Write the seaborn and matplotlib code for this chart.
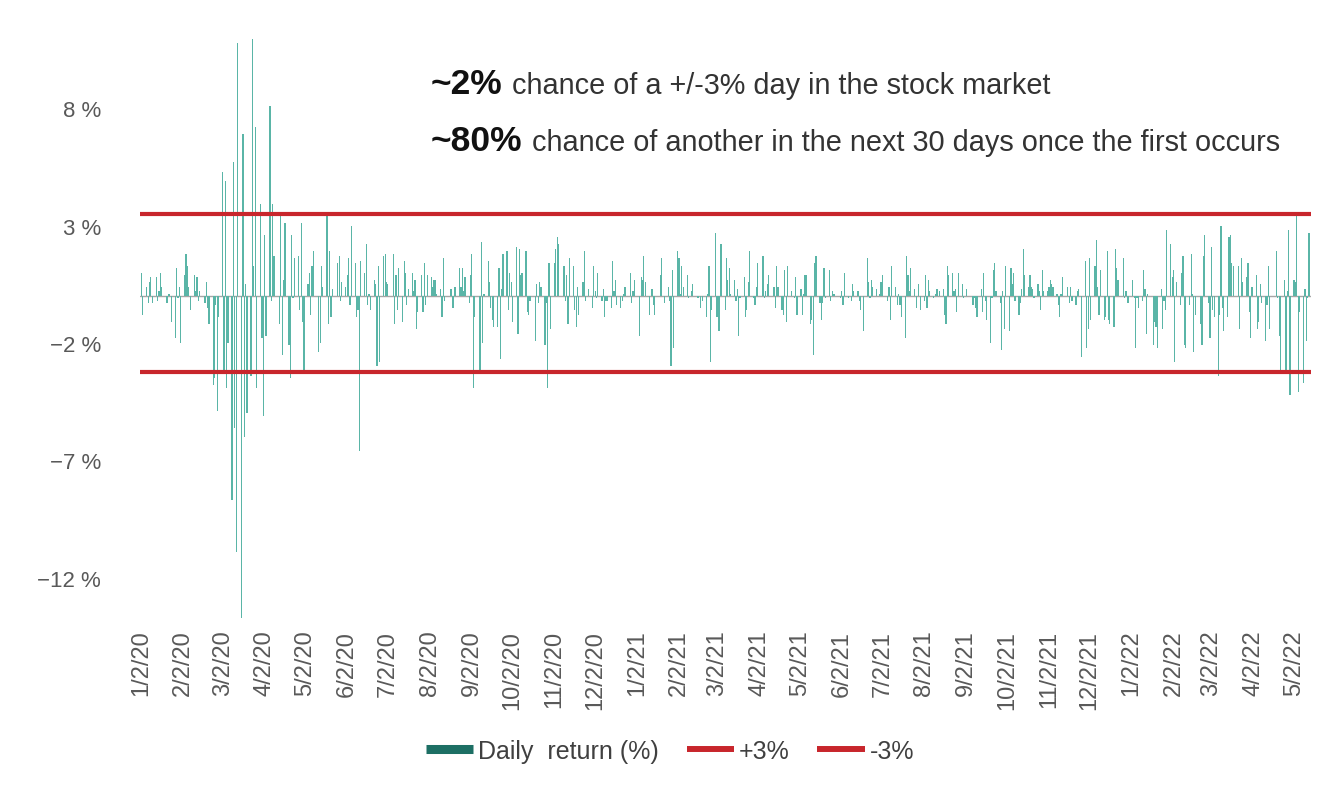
import seaborn as sns
import matplotlib.pyplot as plt
import matplotlib.dates as mdates
from matplotlib.lines import Line2D
import pandas as pd

# daily return (%), one list per month (trading days only)
ret_2020_01 = [1.0, -0.8, 0.4, -0.3, 0.6, 0.8, -0.3, 0.8, -0.2, 0.2, 1.0, 0.4, -0.3, 0.1, 0.1, -1.1, -1.8, 1.2, -0.1, 0.4, -2.0]
ret_2020_02 = [0.9, 1.8, 1.3, 0.4, -0.6, 0.9, 0.2, 0.8, -0.2, 0.2, -0.3, 0.6, -0.5, -1.2, -3.8, -3.5, -0.4, -4.9, -0.9]
ret_2020_03 = [5.3, -3.2, 4.9, -3.9, -2.0, -8.7, 5.7, -5.6, -10.9, 10.8, -13.7, 6.9, -6.0, 0.5, -5.0, -3.4, 11.2, 1.3, 7.2, -3.9, 3.9, -1.8]
ret_2020_04 = [-5.1, 2.6, -1.7, 8.1, -0.2, 3.9, 1.7, -1.2, 3.5, -2.5, 0.7, 3.1, -2.1, -3.5, 2.6, -0.1, 1.6, 1.7, -0.6, 3.1, -1.1]
ret_2020_05 = [-3.2, 0.5, 1.0, -0.8, 1.3, 1.9, 0.0, -2.4, -2.0, 1.3, 0.4, 3.6, -1.2, 1.9, -0.9, 0.3, 1.4, 1.7, -0.2, 0.6]
ret_2020_06 = [0.4, 0.9, 1.6, -0.4, 3.0, 1.4, -0.9, -0.6, -6.6, 1.5, 1.0, 2.2, -0.4, 0.1, -0.6, 0.7, 0.5, -3.0, 1.3, -2.8, 1.7, 1.8]
ret_2020_07 = [0.6, 0.5, 1.8, -1.2, 0.9, -0.6, 1.2, -1.1, 1.5, 1.0, -0.4, 0.3, 1.0, 0.2, 0.7, -1.4, -0.7, 0.9, -0.7, 1.4, -0.4, 0.9]
ret_2020_08 = [0.8, 0.4, 0.7, 0.7, 0.1, 0.3, -0.9, 1.6, -0.2, 0.0, 0.3, 0.3, -0.5, 0.4, 0.4, 1.2, 0.4, 1.2, 0.2, 0.8, -0.3]
ret_2020_09 = [0.9, 1.8, -3.9, -0.9, -3.2, 2.3, -2.0, 0.1, 1.5, 0.6, -0.5, -1.0, -1.3, -1.3, 1.2, -2.7, 0.3, 1.8, 1.9, -0.6, 1.0]
ret_2020_10 = [0.6, -1.1, 2.1, -1.6, 2.0, 0.9, 1.0, 1.9, -0.7, -0.8, -0.2, 0.0, -1.9, 0.5, -0.3, 0.6, 0.4, -2.1, -0.3, -3.9, 1.4, -1.4]
ret_2020_11 = [1.4, 2.0, 2.5, 2.2, 0.0, 1.3, -0.2, 0.9, -1.2, 1.6, 1.3, -0.6, -1.3, 0.4, -0.8, 0.6, 1.9, -0.2, 0.3, -0.5]
ret_2020_12 = [1.3, 0.2, -0.1, 1.0, -0.2, 0.3, -0.9, -0.2, -0.2, -0.5, 1.5, 0.2, 0.7, -0.4, -0.5, -0.2, 0.1, 0.4, 1.0, -0.3, 0.2, 0.7]
ret_2021_01 = [-1.7, 0.8, 0.7, 1.7, 0.6, -0.8, 0.0, 0.3, -0.4, -0.8, 0.9, 1.6, 0.0, -0.3, 0.4, -0.2, -3.0, 1.1, -2.2]
ret_2021_02 = [1.9, 1.6, 0.1, 1.3, 0.4, 0.9, -0.1, 0.0, 0.2, 0.5, -0.1, 0.0, -0.5, -0.2, -0.9, 0.1, 1.3, -2.8, -0.6]
ret_2021_03 = [2.7, -0.9, -1.5, -1.5, 2.2, -0.6, 1.6, 0.7, 1.2, 0.1, 0.7, -0.2, 0.3, -1.7, -0.1, 0.8, -0.9, -0.6, 0.6, 1.9, -0.1, -0.4, 0.4]
ret_2021_04 = [1.4, 1.7, -0.1, 0.2, 0.5, 0.9, 0.0, 0.4, -0.5, 1.3, 0.4, -0.6, -0.8, 1.1, -1.1, 1.3, 0.2, 0.0, -0.1, 0.8, -0.8]
ret_2021_05 = [0.3, -0.8, 0.1, 0.9, 0.9, -1.2, -1.0, -2.5, 1.4, 1.7, -0.3, -1.0, -0.3, 1.2, -0.1, 1.1, -0.2, 0.2, 0.1, 0.1]
ret_2021_06 = [-0.1, 0.2, -0.4, 1.0, -0.1, 0.0, -0.2, 0.5, 0.2, 0.2, -0.2, -0.6, 0.0, -1.5, 1.6, 0.6, -0.1, 0.7, 0.4, 0.3, 0.0, 0.1]
ret_2021_07 = [0.6, 0.9, -0.2, 0.4, -1.0, 1.3, 0.4, -0.4, 0.1, -0.4, -0.9, -1.8, 1.7, 0.9, 0.2, 1.2, 0.3, -0.5, 0.0, 0.5, -0.6]
ret_2021_08 = [-0.2, 0.9, -0.5, 0.7, 0.2, -0.1, 0.1, 0.3, 0.3, 0.2, 0.3, -0.8, -1.2, 1.3, 0.9, 1.0, 0.2, 0.3, -0.7, 1.0, 0.5, -0.1]
ret_2021_09 = [0.0, 0.3, 0.0, -0.4, -0.1, -0.5, -0.9, 0.3, -0.7, 1.0, -0.2, -1.0, -2.0, -0.1, 1.1, 1.4, 0.2, -0.3, -2.3, 0.2, -1.4]
ret_2021_10 = [1.3, -1.5, 1.2, 0.5, 1.0, -0.2, -0.8, -0.3, 0.3, 2.0, 0.9, 0.4, 0.9, 0.4, 0.3, -0.1, 0.5, 0.2, -0.6, 1.1, 0.2]
ret_2021_11 = [0.2, 0.4, 0.7, 0.5, 0.4, 0.1, -0.4, -0.9, 0.1, 0.8, 0.0, 0.4, -0.3, 0.4, -0.2, -0.4, 0.2, 0.3, -2.6, 1.5, -2.2]
ret_2021_12 = [-1.4, 1.6, -1.0, 1.3, 2.4, 0.4, -0.8, 1.1, -1.0, -0.9, 1.9, -1.0, -1.2, -1.3, 2.0, 1.2, 0.7, 1.6, -0.1, 0.2, -0.3, -0.3]
ret_2022_01 = [0.7, -0.1, -2.2, -0.1, -0.5, -0.2, 1.1, 0.3, -1.6, 0.1, -2.1, -1.1, -1.3, -2.2, 0.3, -1.4, -0.2, -0.6, 2.8, 2.2]
ret_2022_02 = [0.8, 1.1, -2.8, 0.6, -0.4, 1.0, 1.7, -2.1, -2.2, -0.4, 1.8, 0.1, -2.4, -0.8, -1.2, -2.1, 1.7, 2.6, -0.3]
ret_2022_03 = [-1.8, 2.1, -0.6, -0.9, -3.4, -0.8, 3.0, -0.5, -1.5, -0.9, 2.5, 2.6, 1.4, 1.3, 0.0, 1.3, -1.4, 1.6, 0.6, 0.8, 1.4, -0.7, -1.8]
ret_2022_04 = [0.4, 0.9, -1.4, -1.1, 0.5, -0.3, -1.9, -0.4, 1.3, -1.4, 0.0, 1.9, -0.1, -1.7, -3.2, 0.7, -3.2, 0.2, 2.8, -4.2]
ret_2022_05 = [0.7, 0.6, 3.4, -4.1, -0.7, -3.7, 0.3, -1.9, -0.1, 2.7]

monthly_returns = [
    ret_2020_01, ret_2020_02, ret_2020_03, ret_2020_04, ret_2020_05, ret_2020_06,
    ret_2020_07, ret_2020_08, ret_2020_09, ret_2020_10, ret_2020_11, ret_2020_12,
    ret_2021_01, ret_2021_02, ret_2021_03, ret_2021_04, ret_2021_05, ret_2021_06,
    ret_2021_07, ret_2021_08, ret_2021_09, ret_2021_10, ret_2021_11, ret_2021_12,
    ret_2022_01, ret_2022_02, ret_2022_03, ret_2022_04, ret_2022_05,
]

first_day = '2020-01-02'
last_day = '2022-05-13'
market_holidays = [
    '2020-01-20', '2020-02-17', '2020-04-10', '2020-05-25', '2020-07-03', '2020-09-07',
    '2020-11-26', '2020-12-25', '2021-01-01', '2021-01-18', '2021-02-15', '2021-04-02',
    '2021-05-31', '2021-07-05', '2021-09-06', '2021-11-25', '2021-12-24', '2022-01-17',
    '2022-02-21', '2022-04-15',
]

# the two red band lines as drawn on the chart
upper_band = 3.5
lower_band = -3.25

tick_dates = [
    '2020-01-02', '2020-02-02', '2020-03-02', '2020-04-02', '2020-05-02', '2020-06-02',
    '2020-07-02', '2020-08-02', '2020-09-02', '2020-10-02', '2020-11-02', '2020-12-02',
    '2021-01-02', '2021-02-02', '2021-03-02', '2021-04-02', '2021-05-02', '2021-06-02',
    '2021-07-02', '2021-08-02', '2021-09-02', '2021-10-02', '2021-11-02', '2021-12-02',
    '2022-01-02', '2022-02-02', '2022-03-02', '2022-04-02', '2022-05-02',
]
tick_labels = [
    '1/2/20', '2/2/20', '3/2/20', '4/2/20', '5/2/20', '6/2/20', '7/2/20', '8/2/20',
    '9/2/20', '10/2/20', '11/2/20', '12/2/20', '1/2/21', '2/2/21', '3/2/21', '4/2/21',
    '5/2/21', '6/2/21', '7/2/21', '8/2/21', '9/2/21', '10/2/21', '11/2/21', '12/2/21',
    '1/2/22', '2/2/22', '3/2/22', '4/2/22', '5/2/22',
]
y_ticks = [8, 3, -2, -7, -12]
y_tick_labels = ['8 %', '3 %', '\u22122 %', '\u22127 %', '\u221212 %']

series_labels = ['Daily  return (%)', '+3%', '-3%']
headline_bold = ['~2%', '~80%']
headline_text = ['chance of a +/-3% day in the stock market',
                 'chance of another in the next 30 days once the first occurs']

bar_color = '#5ab5a7'
legend_teal = '#1d6f64'
red = '#c8262c'
grey_text = '#595959'

W, H = 1340, 804


def build_frame():
    days = pd.bdate_range(first_day, last_day, freq='C', holidays=market_holidays)
    df = pd.DataFrame({'date': days})
    df['month'] = df['date'].dt.to_period('M')
    counts = df.groupby('month').size()
    for (m, n), vals in zip(counts.items(), monthly_returns):
        if n != len(vals):
            raise ValueError(f"{m}: {n} trading days but {len(vals)} values")
    df['ret'] = [v for vals in monthly_returns for v in vals]
    df['x'] = mdates.date2num(df['date'])
    return df


def main():
    df = build_frame()

    sns.set_theme(style='white')
    plt.rcParams['font.family'] = ['Liberation Sans', 'DejaVu Sans']

    fig = plt.figure(figsize=(W / 100, H / 100), dpi=100)
    ax = fig.add_axes([140 / W, 1 - 621 / H, 1171 / W, 581 / H])

    sns.barplot(data=df, x='x', y='ret', native_scale=True, orient='x',
                errorbar=None, color=bar_color, saturation=1, width=0.9,
                linewidth=0, ax=ax)

    ax.axhline(0, color='#a6a6a6', lw=1, zorder=0)
    ax.axhline(upper_band, color=red, lw=3, zorder=3)
    ax.axhline(lower_band, color=red, lw=3, zorder=3)

    ax.set_ylim(-13.8, 10.95)
    ax.set_xlim(df['x'].iloc[0] - 1, df['x'].iloc[-1] + 1.5)

    ax.set_xticks(mdates.date2num(pd.to_datetime(tick_dates)))
    ax.set_xticklabels(tick_labels, rotation=90, fontsize=17, color=grey_text)
    ax.set_yticks(y_ticks)
    ax.set_yticklabels(y_tick_labels, fontsize=16, color=grey_text)
    ax.tick_params(axis='x', length=0, pad=7)
    ax.tick_params(axis='y', length=0, pad=28)
    ax.set_xlabel('')
    ax.set_ylabel('')
    sns.despine(ax=ax, left=True, bottom=True)

    # headline: bold figure followed by regular text
    bold_texts = []
    for label, y in zip(headline_bold, [94, 151]):
        t = fig.text(431 / W, 1 - y / H, label, fontsize=25.5, fontweight='bold',
                     va='baseline', color='#111111')
        bold_texts.append((t, y))
    fig.canvas.draw()
    renderer = fig.canvas.get_renderer()
    for (t, y), line in zip(bold_texts, headline_text):
        bb = t.get_window_extent(renderer)
        fig.text((bb.x1 + 9) / W, 1 - y / H, line, fontsize=20.8,
                 va='baseline', color='#333333')

    handles = [
        Line2D([], [], color=legend_teal, lw=6.5, solid_capstyle='butt'),
        Line2D([], [], color=red, lw=4.3, solid_capstyle='butt'),
        Line2D([], [], color=red, lw=4.3, solid_capstyle='butt'),
    ]
    fig.legend(handles, series_labels, loc='center', bbox_to_anchor=(0.5, 0.065),
               ncol=3, frameon=False, fontsize=18, handlelength=1.9,
               handletextpad=0.2, columnspacing=1.1, labelcolor='#404040')

    fig.savefig('out.png', dpi=100)


if __name__ == "__main__":
    main()
